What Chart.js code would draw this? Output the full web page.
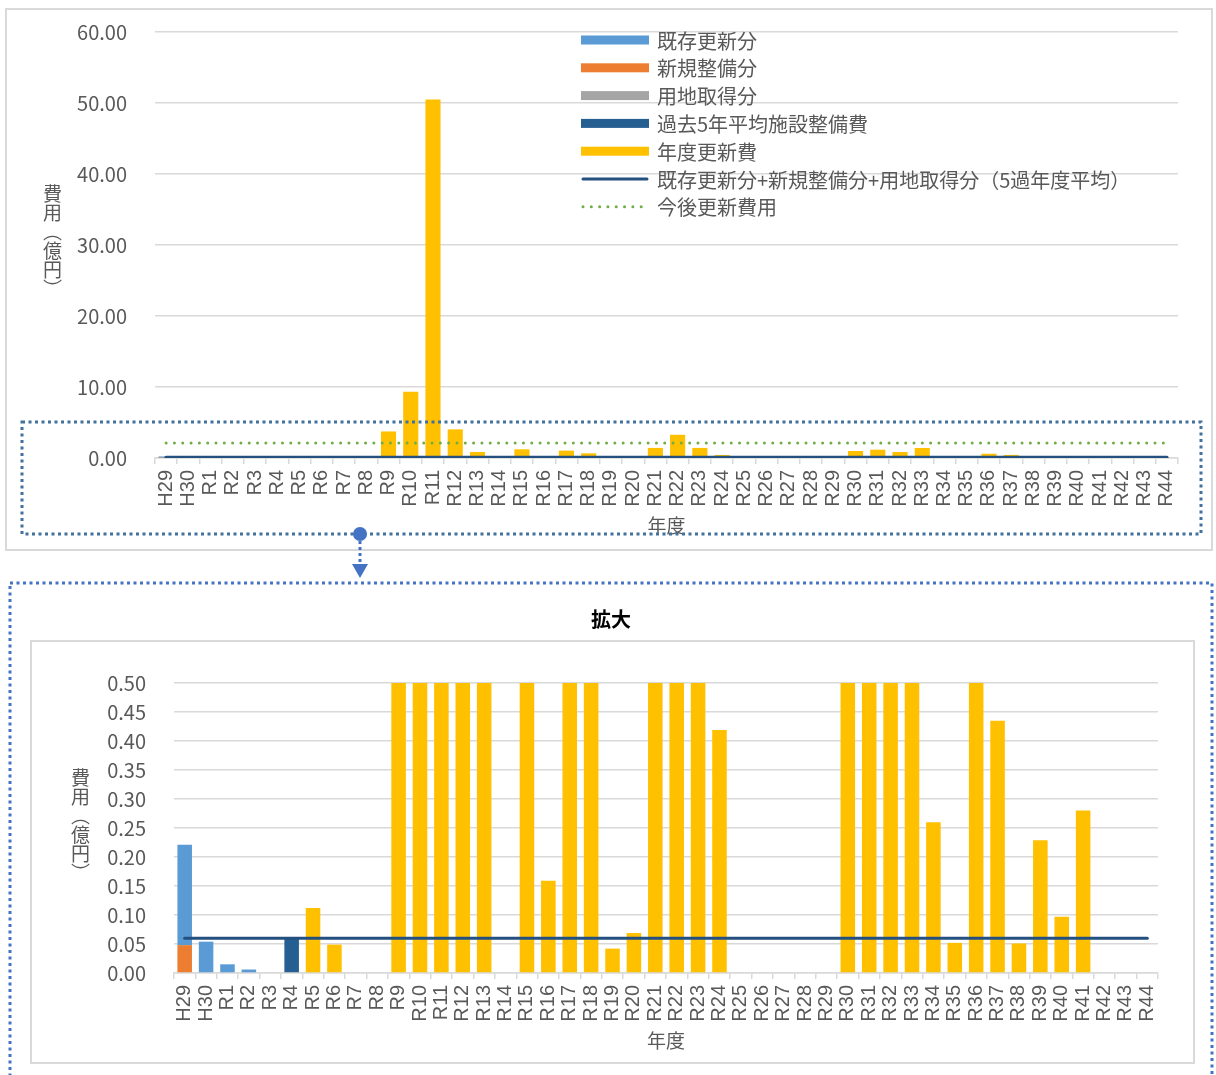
<!DOCTYPE html>
<html lang="ja">
<head>
<meta charset="utf-8">
<title>年度更新費</title>
<script src="https://cdn.jsdelivr.net/npm/chart.js@4.4.1/dist/chart.umd.min.js"></script>
<style>
  html, body { margin: 0; padding: 0; background: #fff; }
  body { width: 1216px; height: 1075px; position: relative; overflow: hidden; font-family: "Noto Sans CJK JP", sans-serif; }
  .frame { position: absolute; box-sizing: border-box; border: 2px solid #d9d9d9; }
  #top-frame { left: 5px; top: 8px; width: 1208px; height: 543px; }
  #zoom-frame { left: 30px; top: 640px; width: 1165px; height: 424px; }
  canvas { position: absolute; }
  #top-chart { left: 5px; top: -8px; }
  #zoom-chart { left: 30px; top: 600px; }
  .ytitle { position: absolute; writing-mode: vertical-rl; font-size: 19px; line-height: 1; color: #595959; }
  #deco { position: absolute; left: 0; top: 0; pointer-events: none; }
</style>
</head>
<body>
<div class="frame" id="top-frame"></div>
<div class="frame" id="zoom-frame"></div>
<canvas id="top-chart" width="1208" height="558"></canvas>
<canvas id="zoom-chart" width="1165" height="464"></canvas>
<div class="ytitle" style="left:43px; top:184px;">費用（億円）</div>
<div class="ytitle" style="left:71px; top:768px;">費用（億円）</div>
<svg id="deco" width="1216" height="1075">
  <rect x="22" y="422" width="1179" height="112" fill="none" stroke="#41719c" stroke-width="3" stroke-dasharray="3 3.5"/>
  <line x1="360" y1="541" x2="360" y2="566" stroke="#4472c4" stroke-width="3" stroke-dasharray="3 3"/>
  <polygon points="352,564 368,564 360,578" fill="#4472c4"/>
  <circle cx="360" cy="534" r="7" fill="#4472c4"/>
  <rect x="10" y="583" width="1202" height="530" fill="none" stroke="#4472c4" stroke-width="3" stroke-dasharray="3 3.5"/>
</svg>
<script>
(function () {
  /* 単位：億円 */
  const CATEGORIES = [
    "H29", "H30", "R1", "R2", "R3", "R4", "R5", "R6", "R7", "R8",
    "R9", "R10", "R11", "R12", "R13", "R14", "R15", "R16", "R17", "R18",
    "R19", "R20", "R21", "R22", "R23", "R24", "R25", "R26", "R27", "R28",
    "R29", "R30", "R31", "R32", "R33", "R34", "R35", "R36", "R37", "R38",
    "R39", "R40", "R41", "R42", "R43", "R44",
  ];

  // 既存更新分
  const EXISTING = [
    0.173, 0.054, 0.015, 0.006, 0, 0, 0, 0, 0, 0,
    0, 0, 0, 0, 0, 0, 0, 0, 0, 0,
    0, 0, 0, 0, 0, 0, 0, 0, 0, 0,
    0, 0, 0, 0, 0, 0, 0, 0, 0, 0,
    0, 0, 0, 0, 0, 0,
  ];
  // 新規整備分
  const NEW_BUILD = [
    0.048, 0, 0, 0, 0, 0, 0, 0, 0, 0,
    0, 0, 0, 0, 0, 0, 0, 0, 0, 0,
    0, 0, 0, 0, 0, 0, 0, 0, 0, 0,
    0, 0, 0, 0, 0, 0, 0, 0, 0, 0,
    0, 0, 0, 0, 0, 0,
  ];
  // 用地取得分
  const LAND = [
    0, 0, 0, 0, 0, 0, 0, 0, 0, 0,
    0, 0, 0, 0, 0, 0, 0, 0, 0, 0,
    0, 0, 0, 0, 0, 0, 0, 0, 0, 0,
    0, 0, 0, 0, 0, 0, 0, 0, 0, 0,
    0, 0, 0, 0, 0, 0,
  ];
  // 過去5年平均施設整備費
  const PAST_AVG = [
    0, 0, 0, 0, 0, 0.06, 0, 0, 0, 0,
    0, 0, 0, 0, 0, 0, 0, 0, 0, 0,
    0, 0, 0, 0, 0, 0, 0, 0, 0, 0,
    0, 0, 0, 0, 0, 0, 0, 0, 0, 0,
    0, 0, 0, 0, 0, 0,
  ];
  // 年度更新費
  const YEARLY = [
    0, 0, 0, 0, 0, 0, 0.112, 0.049, 0, 0,
    3.74, 9.34, 50.48, 4.03, 0.85, 0, 1.23, 0.159, 1.04, 0.66,
    0.042, 0.069, 1.42, 3.27, 1.42, 0.419, 0, 0, 0, 0,
    0, 0.99, 1.17, 0.85, 1.41, 0.26, 0.052, 0.6, 0.435, 0.051,
    0.229, 0.097, 0.28, 0, 0, 0,
  ];
  // 既存更新分+新規整備分+用地取得分（5過年度平均）
  const AVG_LINE = [
    0.06, 0.06, 0.06, 0.06, 0.06, 0.06, 0.06, 0.06, 0.06, 0.06,
    0.06, 0.06, 0.06, 0.06, 0.06, 0.06, 0.06, 0.06, 0.06, 0.06,
    0.06, 0.06, 0.06, 0.06, 0.06, 0.06, 0.06, 0.06, 0.06, 0.06,
    0.06, 0.06, 0.06, 0.06, 0.06, 0.06, 0.06, 0.06, 0.06, 0.06,
    0.06, 0.06, 0.06, 0.06, 0.06, 0.06,
  ];
  // 今後更新費用
  const FUTURE_LINE = [
    2.1, 2.1, 2.1, 2.1, 2.1, 2.1, 2.1, 2.1, 2.1, 2.1,
    2.1, 2.1, 2.1, 2.1, 2.1, 2.1, 2.1, 2.1, 2.1, 2.1,
    2.1, 2.1, 2.1, 2.1, 2.1, 2.1, 2.1, 2.1, 2.1, 2.1,
    2.1, 2.1, 2.1, 2.1, 2.1, 2.1, 2.1, 2.1, 2.1, 2.1,
    2.1, 2.1, 2.1, 2.1, 2.1, 2.1,
  ];

  const TOP_Y = { max: 60, step: 10 };
  const ZOOM_Y = { max: 0.5, step: 0.05 };

  const JP = '"Noto Sans CJK JP", sans-serif';
  const NARROW = '"Liberation Sans Narrow", "Liberation Sans", sans-serif';
  const TEXT = "#595959";
  const GRID = "#d9d9d9";

  // 凡例の並び（datasets の添字）
  const LEGEND_ORDER = [1, 0, 2, 3, 4, 5, 6];

  function makeDatasets(lineScale) {
    const bar = { type: "bar", stack: "bars", borderWidth: 0, barPercentage: 0.68, categoryPercentage: 1 };
    return [
      Object.assign({ label: "新規整備分", data: NEW_BUILD, backgroundColor: "#ed7d31" }, bar),
      Object.assign({ label: "既存更新分", data: EXISTING, backgroundColor: "#5b9bd5" }, bar),
      Object.assign({ label: "用地取得分", data: LAND, backgroundColor: "#a5a5a5" }, bar),
      Object.assign({ label: "過去5年平均施設整備費", data: PAST_AVG, backgroundColor: "#255e91" }, bar),
      Object.assign({ label: "年度更新費", data: YEARLY, backgroundColor: "#ffc000" }, bar),
      {
        type: "line",
        label: "既存更新分+新規整備分+用地取得分（5過年度平均）",
        data: AVG_LINE,
        stack: "avg",
        order: -2,
        borderColor: "#245080",
        borderWidth: 3.5 * lineScale,
        pointRadius: 0,
        fill: false,
        borderCapStyle: "round",
      },
      {
        type: "line",
        label: "今後更新費用",
        data: FUTURE_LINE,
        stack: "future",
        order: -1,
        borderColor: "#70ad47",
        borderWidth: 3,
        borderDash: [0.01, 8.3],
        borderCapStyle: "round",
        pointRadius: 0,
        fill: false,
      },
    ];
  }

  const insideLegend = {
    id: "insideLegend",
    afterDraw(chart, args, opts) {
      const ctx = chart.ctx;
      ctx.save();
      ctx.font = "20px " + JP;
      ctx.textBaseline = "middle";
      LEGEND_ORDER.forEach(function (dsIndex, row) {
        const ds = chart.data.datasets[dsIndex];
        const y = opts.y + row * opts.rowGap;
        const x0 = opts.x;
        const x1 = opts.x + opts.swatch;
        if (ds.type === "line") {
          ctx.beginPath();
          ctx.strokeStyle = ds.borderColor;
          ctx.lineWidth = ds.borderDash ? ds.borderWidth : 3;
          ctx.lineCap = ds.borderCapStyle || "butt";
          ctx.setLineDash(ds.borderDash || []);
          ctx.moveTo(x0 + 2, y);
          ctx.lineTo(x1 - 2, y);
          ctx.stroke();
          ctx.setLineDash([]);
        } else {
          ctx.fillStyle = ds.backgroundColor;
          ctx.fillRect(x0, y - 4.5, opts.swatch, 9);
        }
        ctx.fillStyle = TEXT;
        ctx.fillText(ds.label, x1 + 8, y + 1);
      });
      ctx.restore();
    },
  };

  function makeOptions(o) {
    return {
      responsive: false,
      animation: false,
      devicePixelRatio: 1,
      layout: { padding: o.padding },
      plugins: {
        legend: { display: false },
        tooltip: { enabled: false },
        title: o.title,
        insideLegend: o.legend || false,
      },
      scales: {
        x: {
          stacked: true,
          grid: { drawOnChartArea: false, drawTicks: true, tickLength: 6, color: GRID, lineWidth: 1.5, offset: true },
          border: { display: true, color: GRID, width: 1.5 },
          ticks: {
            autoSkip: false,
            minRotation: 90,
            maxRotation: 90,
            padding: 6,
            color: TEXT,
            font: { family: NARROW, size: 20 },
          },
          title: {
            display: true,
            text: "年度",
            color: TEXT,
            font: { family: JP, size: 19 },
            padding: { top: 0, bottom: o.xTitleBottom },
          },
          afterFit: function (scale) {
            scale.height = o.xHeight;
          },
        },
        y: {
          stacked: true,
          min: 0,
          max: o.yMax,
          grid: { color: GRID, lineWidth: 1.5, drawTicks: false },
          border: { display: false },
          ticks: {
            stepSize: o.yStep,
            padding: 28,
            color: TEXT,
            font: { family: JP, size: 20 },
            callback: function (v) {
              return Number(v).toFixed(2);
            },
          },
          afterFit: function (scale) {
            scale.width = o.yWidth;
          },
        },
      },
    };
  }

  function run() {
    if (!window.Chart) return;

    new Chart(document.getElementById("top-chart"), {
      data: { labels: CATEGORIES, datasets: makeDatasets(1) },
      options: makeOptions({
        padding: { top: 7, right: 35, bottom: 0, left: 0 },
        title: { display: false },
        legend: { x: 576, y: 48, rowGap: 27.8, swatch: 68 },
        xHeight: 92,
        xTitleBottom: 13,
        yMax: TOP_Y.max,
        yStep: TOP_Y.step,
        yWidth: 150,
      }),
      plugins: [insideLegend],
    });

    new Chart(document.getElementById("zoom-chart"), {
      data: { labels: CATEGORIES, datasets: makeDatasets(0.86) },
      options: makeOptions({
        padding: { top: 0, right: 37, bottom: 0, left: 34 },
        title: {
          display: true,
          text: "拡大",
          color: "#000",
          font: { family: JP, size: 20, weight: "bold" },
          padding: { top: 7, bottom: 52 },
        },
        xHeight: 91,
        xTitleBottom: 12,
        yMax: ZOOM_Y.max,
        yStep: ZOOM_Y.step,
        yWidth: 110,
      }),
    });
  }

  if (document.readyState === "loading") {
    document.addEventListener("DOMContentLoaded", run);
  } else {
    run();
  }
})();
</script>
</body>
</html>
